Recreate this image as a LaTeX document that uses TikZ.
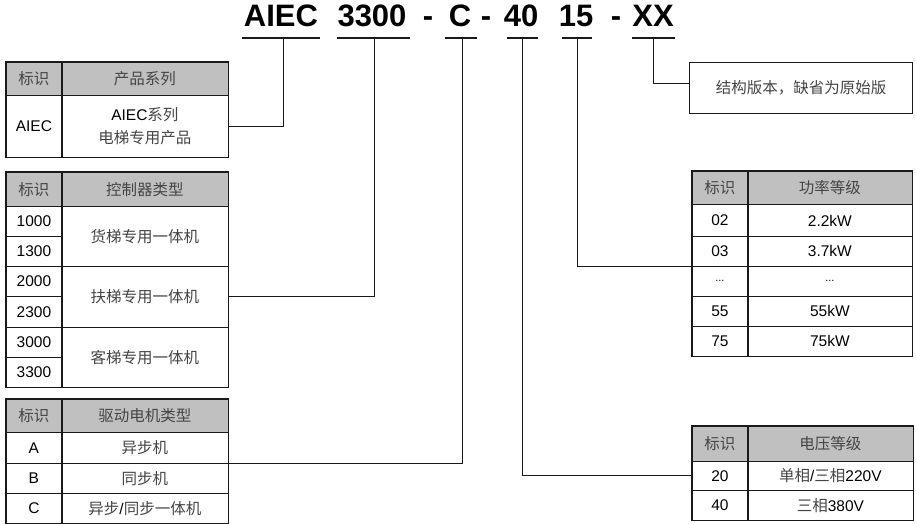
\documentclass[tikz,border=0pt]{standalone}
\usepackage{fontspec}
\setmainfont{Liberation Sans}
\newfontfamily\cjkf{Noto Sans CJK SC}
\definecolor{hdrgray}{HTML}{C0C0C0}
\definecolor{zhgray}{HTML}{454545}
\definecolor{linegray}{HTML}{1A1A1A}
\newcommand\zh[1]{{\cjkf\color{zhgray}#1}}
\begin{document}
\begin{tikzpicture}[x=1pt,y=-1pt,
  cellbase/.style={draw=linegray, line width=0.8pt, inner sep=0pt, anchor=north west, align=center, font=\fontsize{15.5}{23}\selectfont},
  hcell/.style={cellbase, fill=hdrgray, text=black},
  bcell/.style={cellbase, fill=white, text=black},
  ttl/.style={font=\bfseries\fontsize{31}{31}\selectfont, anchor=base, inner sep=0pt},
  uline/.style={line width=1.6pt, linegray},
  conn/.style={line width=0.9pt, linegray},
  colsep/.style={line width=1.5pt, linegray},
  outer/.style={line width=1.1pt, linegray}
]
\useasboundingbox[fill=white] (0,0) rectangle (916,524);

% ---------- title ----------
\node[ttl] (sA)  at (281,27) {AIEC};
\node[ttl] (sB)  at (372,27) {3300};
\node[ttl] (d1)  at (428,27) {-};
\node[ttl] (sC)  at (460,27) {C};
\node[ttl] (d2)  at (486,27) {-};
\node[ttl] (sD)  at (521,27) {40};
\node[ttl] (sE)  at (576,27) {15};
\node[ttl] (d3)  at (616,27) {-};
\node[ttl] (sF)  at (653,27) {XX};

\draw[uline] (242,38) -- (320,38);
\draw[uline] (337,38) -- (410,38);
\draw[uline] (445,38) -- (477,38);
\draw[uline] (507,38) -- (538,38);
\draw[uline] (562,38) -- (592,38);
\draw[uline] (632,38) -- (675,38);

\coordinate (uA) at (283,38);
\coordinate (uB) at (374,38);
\coordinate (uC) at (462,38);
\coordinate (uD) at (522,38);
\coordinate (uE) at (577,38);
\coordinate (uF) at (653,38);

% ---------- product table ----------
\node[hcell, minimum width=55, minimum height=33] (p-h1) at (6,62) {\zh{标识}};
\node[hcell, minimum width=167, minimum height=33] (p-h2) at (61,62) {\zh{产品系列}};
\node[bcell, minimum width=55, minimum height=62] (p-r1c1) at (6,95) {AIEC};
\node[bcell, minimum width=167, minimum height=62] (p-r1c2) at (61,95) {AIEC\zh{系列}\\\zh{电梯专用产品}};
\draw[colsep] (p-h1.north east) -- (p-r1c1.south east);
\draw[outer] (p-h1.north west) rectangle (p-r1c2.south east);

% ---------- controller table ----------
\node[hcell, minimum width=55, minimum height=34] (c-h1) at (6,172) {\zh{标识}};
\node[hcell, minimum width=167, minimum height=34] (c-h2) at (61,172) {\zh{控制器类型}};
\node[bcell, minimum width=55, minimum height=30] (c-r1) at (6,206) {1000};
\node[bcell, minimum width=55, minimum height=30] (c-r2) at (6,236) {1300};
\node[bcell, minimum width=55, minimum height=30] (c-r3) at (6,266) {2000};
\node[bcell, minimum width=55, minimum height=31] (c-r4) at (6,296) {2300};
\node[bcell, minimum width=55, minimum height=30] (c-r5) at (6,327) {3000};
\node[bcell, minimum width=55, minimum height=30] (c-r6) at (6,357) {3300};
\node[bcell, minimum width=167, minimum height=60] (c-m1) at (61,206) {\zh{货梯专用一体机}};
\node[bcell, minimum width=167, minimum height=61] (c-m2) at (61,266) {\zh{扶梯专用一体机}};
\node[bcell, minimum width=167, minimum height=60] (c-m3) at (61,327) {\zh{客梯专用一体机}};
\draw[colsep] (c-h1.north east) -- (c-r6.south east);
\draw[outer] (c-h1.north west) rectangle (c-m3.south east);

% ---------- motor table ----------
\node[hcell, minimum width=55, minimum height=33] (m-h1) at (6,399) {\zh{标识}};
\node[hcell, minimum width=167, minimum height=33] (m-h2) at (61,399) {\zh{驱动电机类型}};
\node[bcell, minimum width=55, minimum height=31] (m-a1) at (6,432) {A};
\node[bcell, minimum width=167, minimum height=31] (m-a2) at (61,432) {\zh{异步机}};
\node[bcell, minimum width=55, minimum height=30] (m-b1) at (6,463) {B};
\node[bcell, minimum width=167, minimum height=30] (m-b2) at (61,463) {\zh{同步机}};
\node[bcell, minimum width=55, minimum height=30] (m-c1) at (6,493) {C};
\node[bcell, minimum width=167, minimum height=30] (m-c2) at (61,493) {\zh{异步}/\zh{同步一体机}};
\draw[colsep] (m-h1.north east) -- (m-c1.south east);
\draw[outer] (m-h1.north west) rectangle (m-c2.south east);

% ---------- version box ----------
\node[bcell, minimum width=223, minimum height=51, line width=1.1pt] (box) at (689,62) {\zh{结构版本，缺省为原始版}};

% ---------- power table ----------
\node[hcell, minimum width=55, minimum height=33] (w-h1) at (692,171) {\zh{标识}};
\node[hcell, minimum width=165, minimum height=33] (w-h2) at (747,171) {\zh{功率等级}};
\node[bcell, minimum width=55, minimum height=32] (w-r1c1) at (692,204) {02};
\node[bcell, minimum width=165, minimum height=32] (w-r1c2) at (747,204) {2.2kW};
\node[bcell, minimum width=55, minimum height=30] (w-r2c1) at (692,236) {03};
\node[bcell, minimum width=165, minimum height=30] (w-r2c2) at (747,236) {3.7kW};
\node[bcell, minimum width=55, minimum height=30] (w-r3c1) at (692,266) {\fontsize{11}{13}\selectfont...};
\node[bcell, minimum width=165, minimum height=30] (w-r3c2) at (747,266) {\fontsize{11}{13}\selectfont...};
\node[bcell, minimum width=55, minimum height=30] (w-r4c1) at (692,296) {55};
\node[bcell, minimum width=165, minimum height=30] (w-r4c2) at (747,296) {55kW};
\node[bcell, minimum width=55, minimum height=30] (w-r5c1) at (692,326) {75};
\node[bcell, minimum width=165, minimum height=30] (w-r5c2) at (747,326) {75kW};
\draw[colsep] (w-h1.north east) -- (w-r5c1.south east);
\draw[outer] (w-h1.north west) rectangle (w-r5c2.south east);

% ---------- voltage table ----------
\node[hcell, minimum width=55, minimum height=35] (v-h1) at (692,426) {\zh{标识}};
\node[hcell, minimum width=166, minimum height=35] (v-h2) at (747,426) {\zh{电压等级}};
\node[bcell, minimum width=55, minimum height=29] (v-r1c1) at (692,461) {20};
\node[bcell, minimum width=166, minimum height=29] (v-r1c2) at (747,461) {\zh{单相}/\zh{三相}220V};
\node[bcell, minimum width=55, minimum height=30] (v-r2c1) at (692,490) {40};
\node[bcell, minimum width=166, minimum height=30] (v-r2c2) at (747,490) {\zh{三相}380V};
\draw[colsep] (v-h1.north east) -- (v-r2c1.south east);
\draw[outer] (v-h1.north west) rectangle (v-r2c2.south east);

% ---------- connectors ----------
\draw[conn] (uA) |- (p-r1c2.east);
\draw[conn] (uB) |- (c-m2.east);
\draw[conn] (uC) |- (m-a2.south east);
\draw[conn] (uD) |- (v-r1c1.west);
\draw[conn] (uE) |- (w-r2c1.south west);
\draw[conn] (uF) |- ([yshift=4.5pt]box.west);
\end{tikzpicture}
\end{document}
